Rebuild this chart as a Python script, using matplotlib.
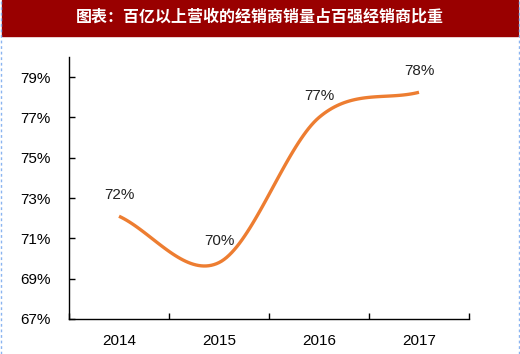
import numpy as np
import matplotlib.pyplot as plt
from matplotlib.lines import Line2D
from matplotlib.patches import Rectangle

# data
years = ['2014', '2015', '2016', '2017']
share = [72.1, 69.8, 77.0, 78.25]
labels = ['72%', '70%', '77%', '78%']
yticks = [67, 69, 71, 73, 75, 77, 79]
title = '图表：百亿以上营收的经销商销量占百强经销商比重'

def smooth(x, y, n=40):
    # Excel-like smoothed line (cubic Hermite, Catmull-Rom tangents)
    x = np.asarray(x, float)
    y = np.asarray(y, float)
    m = np.zeros_like(y)
    m[1:-1] = (y[2:] - y[:-2]) / (x[2:] - x[:-2])
    m[0] = (y[1] - y[0]) / (x[1] - x[0])
    m[-1] = (y[-1] - y[-2]) / (x[-1] - x[-2])
    xs, ys = [], []
    for i in range(len(x) - 1):
        t = np.linspace(0, 1, n)
        h = x[i + 1] - x[i]
        h00 = 2*t**3 - 3*t**2 + 1
        h10 = t**3 - 2*t**2 + t
        h01 = -2*t**3 + 3*t**2
        h11 = t**3 - t**2
        xs.append(x[i] + t*h)
        ys.append(h00*y[i] + h10*h*m[i] + h01*y[i+1] + h11*h*m[i+1])
    return np.concatenate(xs), np.concatenate(ys)

plt.rcParams['font.family'] = ['Liberation Sans', 'DejaVu Sans']

fig = plt.figure(figsize=(5.2, 3.54), dpi=100)
fig.patches.append(Rectangle((2/520, 1 - 36/354), 516/520, 36/354,
                             transform=fig.transFigure, color='#990000', zorder=0))
fig.text(0.5, 1 - 17/354, title, color='white', fontsize=11.5, fontweight='bold',
         ha='center', va='center', family=['Noto Sans CJK SC', 'DejaVu Sans'])
for xe in (1/520, 518.5/520):
    fig.lines.append(Line2D([xe, xe], [0, 1], transform=fig.transFigure,
                            color='#8ab4f0', lw=1, ls=(0, (2, 2))))

ax = fig.add_axes([69/520, 35/354, 400/520, 262/354])
x = np.arange(len(years))
sx, sy = smooth(x, share)
ax.plot(sx, sy, color='#ED7D31', lw=2.4, solid_capstyle='butt')
for xi, yi, lab in zip(x, share, labels):
    ax.text(xi, yi + 1.05, lab, ha='center', va='center', fontsize=11, color='#222222')

ax.set_xlim(-0.5, 3.5)
ax.set_ylim(67, 80)
ax.set_xticks(x)
ax.set_xticklabels(years)
ax.set_xticks(np.arange(-0.5, 3.6, 1), minor=True)
ax.tick_params(axis='x', which='major', length=0, pad=11, labelsize=11)
ax.tick_params(axis='x', which='minor', direction='in', length=4, width=1)
ax.set_yticks(yticks)
ax.set_yticklabels([f'{v}%' for v in yticks])
ax.tick_params(axis='y', direction='in', length=4, width=1, pad=13, labelsize=11)
for s in ('top', 'right'):
    ax.spines[s].set_visible(False)
for s in ('left', 'bottom'):
    ax.spines[s].set_linewidth(1)

fig.savefig('out.png', dpi=100)
